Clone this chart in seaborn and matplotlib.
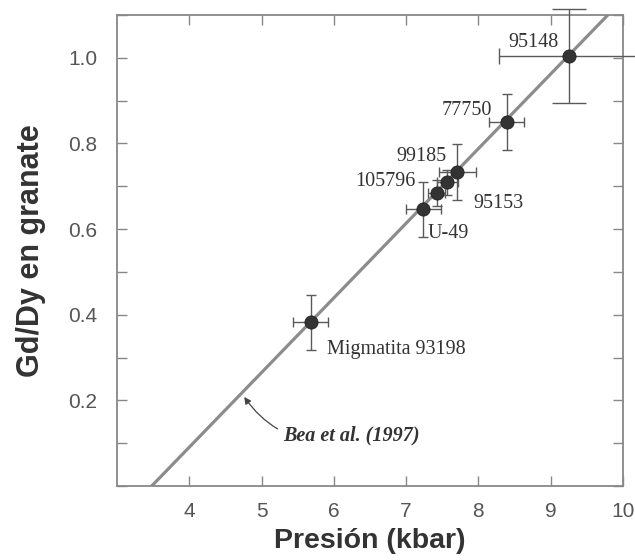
import numpy as np
import pandas as pd
import seaborn as sns
import matplotlib.pyplot as plt
from matplotlib.ticker import MultipleLocator, FormatStrFormatter

# samples: pressure (kbar), Gd/Dy in garnet, error bars
muestras = ['95148', '77750', '99185', '95153', '105796', 'U-49', 'Migmatita 93198']
presion = [9.25, 8.39, 7.71, 7.57, 7.42, 7.24, 5.68]
gd_dy = [1.005, 0.850, 0.733, 0.709, 0.684, 0.646, 0.382]
err_p = [0.97, 0.24, 0.25, 0.15, 0.12, 0.245, 0.245]
err_gd = [0.11, 0.065, 0.065, 0.03, 0.03, 0.065, 0.065]

# label anchor positions (data units) and alignment
lab_x = [9.11, 8.19, 7.56, 7.93, 7.13, 7.30, 5.90]
lab_y = [1.036, 0.876, 0.769, 0.659, 0.710, 0.589, 0.318]
lab_ha = ['right', 'right', 'right', 'left', 'right', 'left', 'left']

# Bea et al. (1997) calibration line
bea_p = [3.48, 9.79]
bea_gd = [0.0, 1.1]

df = pd.DataFrame({'muestra': muestras, 'P': presion, 'GdDy': gd_dy,
                   'eP': err_p, 'eG': err_gd})

sns.set_theme(style='ticks')
plt.rcParams['font.family'] = ['Liberation Sans', 'DejaVu Sans']

fig, ax = plt.subplots(figsize=(6.35, 5.6), dpi=100)
fig.subplots_adjust(left=117/635, right=623/635, top=1-15/560, bottom=1-486/560)

sns.lineplot(x=bea_p, y=bea_gd, ax=ax, color='#8c8c8c', lw=2.3, zorder=2)

ecol = '#5a5a5a'
big = df.iloc[:1]
rest = df.iloc[1:]
ax.errorbar(rest['P'], rest['GdDy'], xerr=rest['eP'], yerr=rest['eG'], fmt='none',
            ecolor=ecol, elinewidth=1.0, capsize=3.3, capthick=1.0, zorder=3)
ax.errorbar(big['P'], big['GdDy'], yerr=big['eG'], fmt='none', ecolor=ecol,
            elinewidth=1.0, capsize=12, capthick=1.0, zorder=3, clip_on=False)
ax.errorbar(big['P'], big['GdDy'], xerr=big['eP'], fmt='none', ecolor=ecol,
            elinewidth=1.0, capsize=6, capthick=1.0, zorder=3, clip_on=False)

sns.scatterplot(data=df, x='P', y='GdDy', ax=ax, color='#333333', s=90,
                edgecolor='#222222', linewidth=0.6, zorder=4, clip_on=False)

for name, x, y, ha in zip(muestras, lab_x, lab_y, lab_ha):
    ax.text(x, y, name, ha=ha, va='center', fontsize=14.5,
            family='Liberation Serif', color='#333333')

ax.annotate('Bea et al. (1997)', xy=(4.76, 0.208), xytext=(5.30, 0.117),
            ha='left', va='center', fontsize=14.5, family='Liberation Serif',
            style='italic', weight='bold', color='#333333',
            arrowprops=dict(arrowstyle='-|>', color='#444444', lw=0.9,
                            mutation_scale=10, shrinkA=2, shrinkB=0,
                            connectionstyle='arc3,rad=-0.35'))

ax.set_xlim(3, 10)
ax.set_ylim(0, 1.1)
ax.xaxis.set_major_locator(MultipleLocator(1))
ax.yaxis.set_major_locator(MultipleLocator(0.2))
ax.yaxis.set_minor_locator(MultipleLocator(0.1))
ax.yaxis.set_major_formatter(FormatStrFormatter('%.1f'))
ax.set_xticks([4, 5, 6, 7, 8, 9, 10])
ax.set_yticks([0.2, 0.4, 0.6, 0.8, 1.0])

ax.tick_params(axis='both', which='both', direction='in', top=True, right=True,
               length=7, width=1.0, color='#888888', labelcolor='#555555',
               labelsize=15)
ax.tick_params(axis='y', which='major', pad=14)
ax.tick_params(axis='x', which='major', pad=11.5)
for lbl in ax.get_xticklabels():
    lbl.set_clip_on(False)
for s in ax.spines.values():
    s.set_color('#888888')
    s.set_linewidth(1.3)

ax.set_xlabel('Presión (kbar)', fontsize=20.5, weight='bold', color='#333333', labelpad=5)
ax.set_ylabel('Gd/Dy en granate', fontsize=22, weight='bold', color='#333333', labelpad=16)

fig.savefig('out.png', dpi=100)
